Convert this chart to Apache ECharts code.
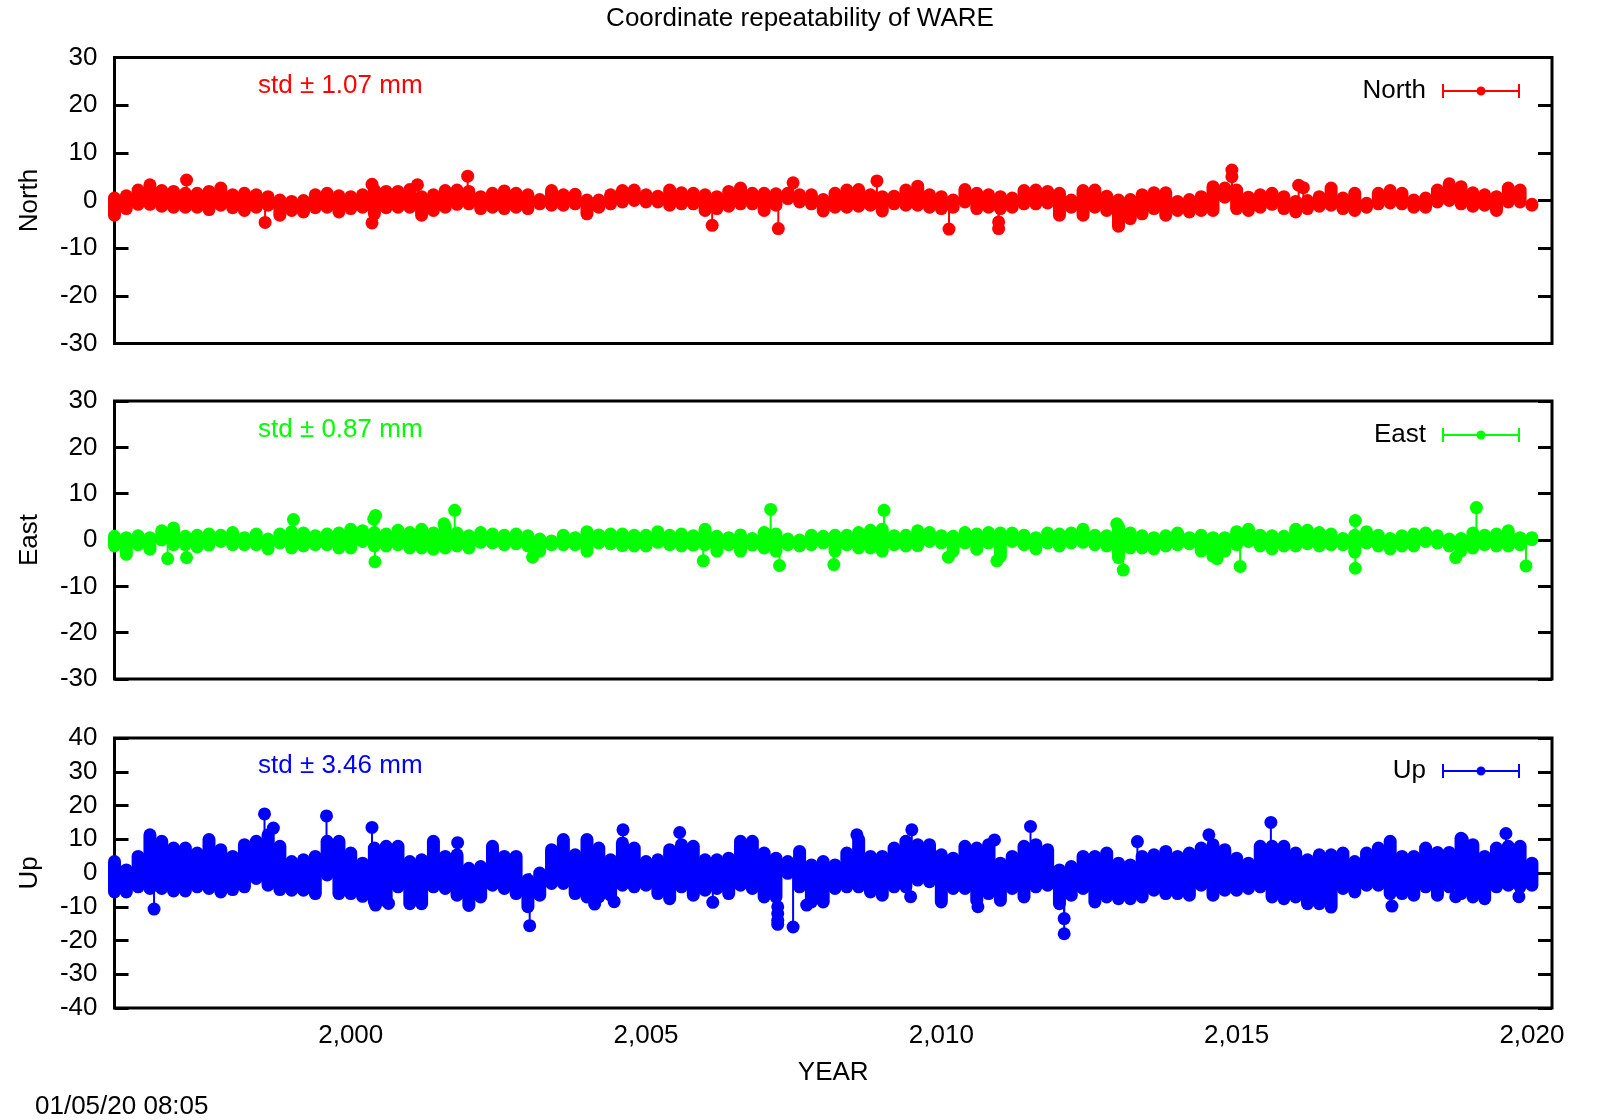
<!DOCTYPE html>
<html>
<head>
<meta charset="utf-8">
<title>Coordinate repeatability of WARE</title>
<script src="https://cdn.jsdelivr.net/npm/echarts@6/dist/echarts.min.js"></script>
<style>
  html, body { margin: 0; padding: 0; background: #fff; }
  #chart { width: 1600px; height: 1120px; }
</style>
</head>
<body>
<div id="chart"></div>
<script>
var sampleYears = [
  1996.0,1996.2,1996.4,1996.6,1996.8,1997.0,1997.2,1997.4,1997.6,1997.8,
  1998.0,1998.2,1998.4,1998.6,1998.8,1999.0,1999.2,1999.4,1999.6,1999.8,
  2000.0,2000.2,2000.4,2000.6,2000.8,2001.0,2001.2,2001.4,2001.6,2001.8,
  2002.0,2002.2,2002.4,2002.6,2002.8,2003.0,2003.2,2003.4,2003.6,2003.8,
  2004.0,2004.2,2004.4,2004.6,2004.8,2005.0,2005.2,2005.4,2005.6,2005.8,
  2006.0,2006.2,2006.4,2006.6,2006.8,2007.0,2007.2,2007.4,2007.6,2007.8,
  2008.0,2008.2,2008.4,2008.6,2008.8,2009.0,2009.2,2009.4,2009.6,2009.8,
  2010.0,2010.2,2010.4,2010.6,2010.8,2011.0,2011.2,2011.4,2011.6,2011.8,
  2012.0,2012.2,2012.4,2012.6,2012.8,2013.0,2013.2,2013.4,2013.6,2013.8,
  2014.0,2014.2,2014.4,2014.6,2014.8,2015.0,2015.2,2015.4,2015.6,2015.8,
  2016.0,2016.2,2016.4,2016.6,2016.8,2017.0,2017.2,2017.4,2017.6,2017.8,
  2018.0,2018.2,2018.4,2018.6,2018.8,2019.0,2019.2,2019.4,2019.6,2019.8,
  2020.0
];

var northHigh = [
  0.5,1,2.2,3.3,2.1,1.9,1.5,1.5,1.9,2.6,1.2,1.5,1.2,0.8,0.1,-0.2,0,1.2,1.5,1,0.8,1.2,2.2,1.9,1.9,2.3,0.8,1.2,2.1,2.2,1.9,0.8,1.5,2,
  1.5,1.2,0.2,2.1,1.2,1.3,0.1,0.1,1.2,2.1,2.2,1.2,0.9,2.2,1.6,1.5,1.2,0.8,1.9,2.6,1.5,1.5,1.4,1.5,1.2,1.2,0.2,1.5,2.2,2.3,
  1.2,0.8,0.9,2.2,3,1.2,0.8,0.1,2.3,1.5,1.2,0.8,0.5,2.1,2.2,1.9,1.5,0.1,2.1,2.2,0.9,0.1,0.2,1.2,1.6,1.6,-0.2,0.2,0.8,2.9,
  2.6,2.2,0.7,1.2,1.5,0.8,-0.2,0,0.8,2.6,0.5,1.5,-0.6,1.5,2.1,1.5,0.1,0.5,2.2,3.5,2.9,1.6,1.2,0.8,2.6,2.2,-0.8
];
var northLow = [
  -3.1,-1.7,-0.8,-0.8,-1.2,-1.4,-1.4,-1.4,-1.9,-1,-1.5,-2.1,-1.4,-1,-3.1,-2.1,-2.4,-1.5,-1.4,-2.4,-1.7,-1.4,-2.8,-1.5,-1.4,-1.4,-3.1,-2.1,-1.4,-0.8,-0.7,-1.7,-1.4,-1.7,
  -1.4,-1.7,-0.7,-1,-1,-0.7,-2.8,-1.4,-0.7,-0.3,0,-0.3,-0.3,-1,-0.7,-0.7,-2.1,-1.7,-1.2,-0.7,-0.7,-2.1,-1,0.4,-0.3,-0.7,-2.2,-1.4,-1.4,-1.2,
  -1,-2.2,-0.7,-1,-1,-1.4,-1.7,-1.4,-0.3,-1.7,-1.4,-1.7,-1.4,-0.7,-0.7,-0.5,-3.1,-1.4,-3.1,-1.4,-2.1,-5.4,-3.8,-2.8,-1.7,-3.1,-2.1,-2.4,-2.1,-2.1,
  0.7,-1.7,-2.1,-1.4,-0.8,-1.7,-2.4,-1.7,-1.2,-1,-1.7,-2.1,-1.4,-0.7,-0.5,-0.7,-1.4,-1.4,-0.3,0,-0.7,-1.2,-1,-2.1,-0.3,-0.3,-1
];
var northOutYears = [1997.22,1998.55,2000.36,2000.36,2001.13,2001.98,2006.12,2007.24,2007.49,2008.91,2010.13,2010.97,2010.97,2014.92,2014.92,2016.05,2016.13];
var northOutValues = [4.3,-4.6,-4.7,3.4,3.3,5.1,-5.2,-5.9,3.7,4.1,-6,-4.5,-5.9,6.4,5,3.2,2.7];

var eastHigh = [
  0.8,0.5,0.9,0.5,2,2.6,0.8,1,1.3,1,1.6,0.5,1.3,0.2,1.3,1.8,1.5,0.9,1.3,1.5,2.3,2,1.6,1.3,2.1,1.6,2.3,1.5,2.9,1.5,0.9,1.6,1.3,1,1.3,0.9,0.2,-0.2,1,0.5,
  1.8,1.1,1.3,1.3,1,1,1.8,1,1.3,0.9,2.3,0.8,0.5,1.1,0.3,1.6,1.3,0.2,0,1,0.8,1,1,1.6,2.1,2.3,0.9,1,2,1.6,0.9,0.8,1.6,1.3,1.6,1.5,1.5,1,0.5,1.5,1.3,
  1.5,2.3,1,0.9,2.9,1.5,0.9,0.5,0.9,1.5,0.5,1,0.5,0.5,1.8,2.3,1,0.9,0.8,2.3,2.1,1.6,1.3,0.3,1,1.8,1,0.3,0.9,1.3,1.5,0.9,0.2,0.3,1.5,1,1.3,2,0.5,0.5
];
var eastLow = [
  -1.3,-3.1,-1,-2,0,-1,-1,-1.5,-1.1,-0.3,-1,-1,-1,-1.9,-0.6,-1.7,-1.3,-1,-1,-1.7,-1.7,-0.3,-1.3,-1.3,-1,-1.7,-1.7,-2,-1.7,-1.3,-1.7,-0.5,-0.6,-1,-0.8,-1.3,-2.4,-1,-1,-1,
  -2.4,-0.6,-0.8,-1.2,-1.3,-1.3,-0.5,-1,-1.3,-1.1,-1,-2.4,-1,-2.4,-1.1,-1.7,-2.4,-1,-1.3,-1,-0.6,-2.4,-1,-1.7,-1.7,-2.4,-1,-1.3,-1.2,-0.3,-0.6,-2.4,-0.6,-2,-0.6,-3.5,-0.3,-1,-1.9,-0.6,-1.3,
  -0.6,-0.5,-1,-1.3,-3.8,-1.7,-1.7,-1.9,-1.3,-1,-0.8,-2.4,-3.5,-2.4,-1,-0.3,-1.3,-1.9,-1.3,-1.3,-0.8,-1.3,-1,-1,-2.6,-0.6,-1.3,-1.9,-1.3,-1.3,-0.3,-0.6,-1.3,-2.4,-1.7,-1,-1.3,-1.3,-1,0.1
];
var eastOutYears = [1996.9,1997.22,1999.03,2000.39,2000.42,2000.41,2001.76,2001.58,2003.08,2005.97,2007.26,2007.11,2008.18,2009.03,2010.12,2010.94,2013.08,2012.97,2014.67,2015.06,2017.01,2017.01,2018.71,2019.06,2019.9];
var eastOutValues = [-4,-3.8,4.4,4.5,5.3,-4.7,6.4,3.5,-3.7,-4.5,-5.5,6.6,-5.3,6.4,-3.7,-4.5,-6.5,3.5,-4,-5.7,4.2,-6.1,-3.8,7,-5.6];

var upHigh = [
  3.4,0.9,4.9,11.3,9.4,7.4,7.4,5.9,9.9,6.9,4.9,8.4,9.4,11.3,7.9,3.4,3.9,4.9,9.4,9.4,5.9,2.9,7.4,7.9,7.9,3.4,3.9,9.4,4.9,5.4,1.4,1.9,7.9,4.9,4.9,-2,0,6.9,9.9,5.4,9.9,
  7.4,3.9,8.9,7.4,3.4,3.9,6.9,8.4,7.9,3.9,3.9,4.4,9.4,9.4,5.9,4.4,3.4,6.4,2.4,3.4,2.4,5.9,9.9,4.9,4.9,7.4,9.4,8.4,8.4,5.4,4.4,7.9,7.4,8.4,2.9,4.9,7.9,8.4,6.9,0.9,
  1.9,4.9,4.9,5.9,2.9,2.4,4.9,5.4,6.4,4.9,5.9,7.4,8.4,6.9,4.4,2.9,7.9,7.9,7.9,5.9,3.9,5.4,5.4,5.9,3.4,5.9,7.4,9.4,4.9,4.9,7.4,6.1,6.1,10.3,8.4,4.9,7.4,7.9,7.9,2.9
];
var upLow = [
  -5.6,-5.6,-4.1,-4.6,-4.6,-5.3,-5.3,-4.1,-4.6,-5.6,-4.9,-4.1,-1.6,-3.6,-4.9,-5.1,-5.1,-6.1,-0.6,-6.1,-6.1,-6.9,-8.6,-8.3,-4.1,-9.1,-9.1,-4.1,-4.6,-6.6,-9.6,-7.1,-3.6,-4.6,-6.1,-10,-6.6,-3.1,-3.1,-6.1,-7.1,
  -7.1,-6.6,-3.6,-4.1,-3.6,-6.1,-7.6,-4.1,-6.6,-5.1,-4.6,-6.1,-3.6,-4.6,-7.1,-7.1,-0.1,-4.1,-8.6,-8.6,-4.6,-4.1,-4.1,-5.6,-6.6,-4.1,-4.1,-2.1,-2.6,-8.6,-4.6,-4.6,-8.1,-6.1,-8.1,-4.6,-7.1,-4.1,-3.6,-9.1,
  -6.6,-4.6,-8.6,-7.1,-7.6,-7.6,-7.1,-5.1,-6.1,-6.1,-6.6,-3.6,-6.6,-5.1,-5.1,-4.6,-4.1,-7.1,-7.6,-7.1,-9.1,-9.1,-10.1,-4.6,-5.6,-3.6,-3.6,-6.1,-6.1,-6.6,-4.1,-6.6,-4.1,-6.1,-7.1,-7.6,-4.1,-3.6,-4.1,-3.6
];
var upOutYears = [1996.67,1998.54,1998.69,1999.59,2000.36,2000.42,2000.64,2001.81,2003.03,2004.13,2004.46,2004.61,2005.57,2006.13,2007.23,2007.23,2007.23,2007.23,2007.49,2007.72,2008.57,2009.5,2009.48,2010.62,2010.9,2011.51,2012.08,2012.08,2013.32,2014.53,2015.58,2017.63,2018.71,2018.82,2019.56,2019.78];
var upOutValues = [-10.7,17.5,13.3,16.9,13.5,-9.5,-9,9,-15.6,-9.2,-8.5,12.8,12,-8.7,-10,-12,-14,-15.2,-16,-9.5,11.3,12.8,-7,-10,9.8,13.8,-13.5,-18,9.3,11.3,15,-9.8,-7,10,11.7,-7];

var xTickYears = [2000, 2005, 2010, 2015, 2020];

var RED = '#ff0000', GREEN = '#00ff00', BLUE = '#0000ff';
var FONT = '"Liberation Sans", Arial, sans-serif';
var FONT_SIZE = 26;
var DOT = 13;
var LEFT = 114.5, RIGHT = 1552;

// capped bar with a dot, like the gnuplot error bar key
var KEY_ICON = 'path://M0 0h2v14h-2z M76 0h2v14h-2z M0 6h78v2h-78z M34.5 7a4.5 4.5 0 1 1 9 0a4.5 4.5 0 1 1 -9 0z';

function zip3(a, b, c) {
  return a.map(function(v, i) { return [v, b[i], c[i]]; });
}
function zip2(a, b) {
  return a.map(function(v, i) { return [v, b[i]]; });
}

// one sample = a fat round-capped stroke from the low to the high of the scatter
function renderBand(params, api) {
  var top = api.coord([api.value(0), api.value(1)]);
  var bot = api.coord([api.value(0), api.value(2)]);
  return {
    type: 'line',
    shape: { x1: top[0], y1: top[1], x2: bot[0], y2: bot[1] },
    style: { stroke: api.visual('color'), lineWidth: DOT, lineCap: 'round' }
  };
}

// outlier = dot plus the thin error bar back to the bulk
function renderOutlier(params, api) {
  var p = api.coord([api.value(0), api.value(1)]);
  var base = api.coord([api.value(0), 0]);
  var color = api.visual('color');
  return {
    type: 'group',
    children: [
      {
        type: 'line',
        shape: { x1: p[0], y1: p[1], x2: base[0], y2: base[1] },
        style: { stroke: color, lineWidth: 2 }
      },
      {
        type: 'circle',
        shape: { cx: p[0], cy: p[1], r: DOT / 2 },
        style: { fill: color }
      }
    ]
  };
}

var panels = [
  { name: 'North', color: RED, top: 57.5, bottom: 343.5, range: 30, std: 'std ± 1.07 mm', key: 85,
    band: zip3(sampleYears, northHigh, northLow), out: zip2(northOutYears, northOutValues) },
  { name: 'East', color: GREEN, top: 401, bottom: 679, range: 30, std: 'std ± 0.87 mm', key: 429,
    band: zip3(sampleYears, eastHigh, eastLow), out: zip2(eastOutYears, eastOutValues) },
  { name: 'Up', color: BLUE, top: 738, bottom: 1008, range: 40, std: 'std ± 3.46 mm', key: 765,
    band: zip3(sampleYears, upHigh, upLow), out: zip2(upOutYears, upOutValues) }
];

var grids = [], xAxes = [], yAxes = [], series = [], legends = [];
var graphics = [
  { type: 'text', left: 'center', x: 833, y: 19,
    style: { text: 'Coordinate repeatability of WARE', font: FONT_SIZE + 'px ' + FONT, fill: '#000', textAlign: 'center', textVerticalAlign: 'middle' } },
  { type: 'text', x: 35, y: 1107,
    style: { text: '01/05/20 08:05', font: FONT_SIZE + 'px ' + FONT, fill: '#000', textVerticalAlign: 'middle' } }
];

panels.forEach(function(p, i) {
  var isLast = i === panels.length - 1;
  grids.push({
    left: LEFT, width: RIGHT - LEFT, top: p.top, height: p.bottom - p.top,
    show: true, borderColor: '#000', borderWidth: 3, backgroundColor: '#fff'
  });

  [0, 1].forEach(function(side) {
    xAxes.push({
      gridIndex: i, type: 'value', min: 1996, max: 2020.34,
      position: side ? 'top' : 'bottom',
      name: isLast && !side ? 'YEAR' : '',
      nameLocation: 'middle', nameGap: 52,
      nameTextStyle: { color: '#000', fontFamily: FONT, fontSize: FONT_SIZE },
      splitLine: { show: false },
      axisLine: { show: false },
      axisTick: { show: isLast, inside: true, length: 14, customValues: xTickYears, lineStyle: { color: '#000', width: 3 } },
      axisLabel: { show: isLast && !side, customValues: xTickYears, color: '#000', fontFamily: FONT, fontSize: FONT_SIZE, margin: 15 }
    });
    yAxes.push({
      gridIndex: i, type: 'value', min: -p.range, max: p.range, interval: 10,
      position: side ? 'right' : 'left',
      name: side ? '' : p.name,
      nameLocation: 'middle', nameGap: 72, nameRotate: 90,
      nameTextStyle: { color: '#000', fontFamily: FONT, fontSize: FONT_SIZE },
      splitLine: { show: false },
      axisLine: { show: false },
      axisTick: { show: true, inside: true, length: 14, lineStyle: { color: '#000', width: 3 } },
      axisLabel: { show: !side, color: '#000', fontFamily: FONT, fontSize: FONT_SIZE, margin: 17 }
    });
  });

  var axisIdx = i * 2;
  series.push({
    name: p.name, type: 'custom', xAxisIndex: axisIdx, yAxisIndex: axisIdx,
    clip: false, renderItem: renderBand, itemStyle: { color: p.color },
    encode: { x: 0, y: [1, 2] }, data: p.band, animation: false, silent: true
  });
  series.push({
    name: p.name, type: 'custom', xAxisIndex: axisIdx, yAxisIndex: axisIdx,
    clip: false, renderItem: renderOutlier, itemStyle: { color: p.color },
    encode: { x: 0, y: 1 }, data: p.out, animation: false, silent: true
  });

  legends.push({
    data: [{ name: p.name, icon: KEY_ICON }],
    orient: 'horizontal', align: 'right', selectedMode: false,
    right: 1600 - 1520, top: p.key - 7, padding: 0,
    itemWidth: 78, itemHeight: 14,
    textStyle: { color: '#000', fontFamily: FONT, fontSize: FONT_SIZE, padding: [0, 11, 0, 0] }
  });

  graphics.push({
    type: 'text', x: 258, y: p.key + 1,
    style: { text: p.std, font: FONT_SIZE + 'px ' + FONT, fill: p.color, textVerticalAlign: 'middle' }
  });
});

var chart = echarts.init(document.getElementById('chart'), null, { renderer: 'canvas' });
chart.setOption({
  animation: false,
  backgroundColor: '#fff',
  grid: grids,
  xAxis: xAxes,
  yAxis: yAxes,
  legend: legends,
  series: series,
  graphic: graphics
});
</script>
</body>
</html>
